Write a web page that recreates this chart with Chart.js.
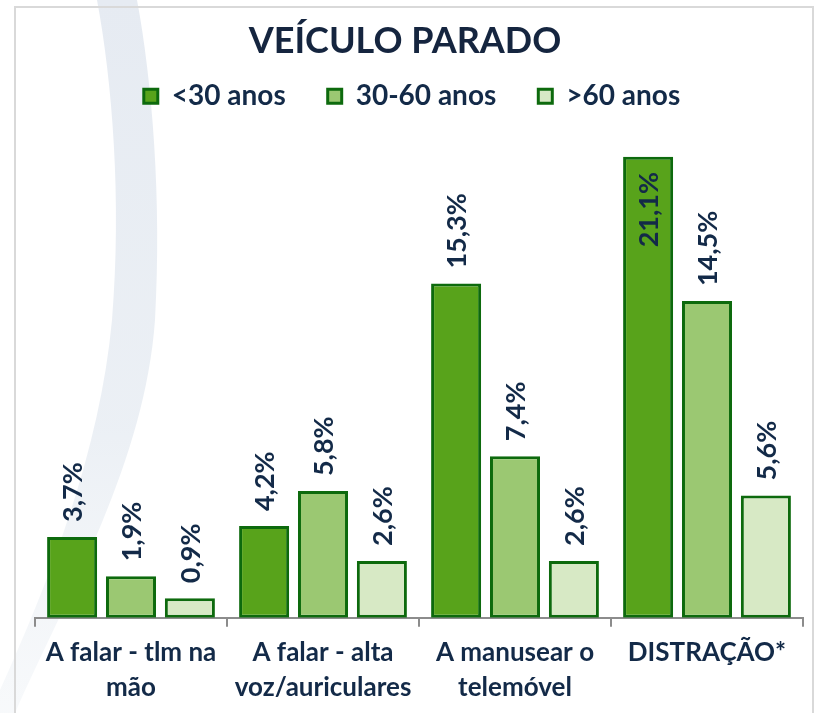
<!DOCTYPE html>
<html><head><meta charset="utf-8">
<script src="https://cdn.jsdelivr.net/npm/chart.js@4/dist/chart.umd.min.js"></script>
<style>html,body{margin:0;padding:0;background:#fff}canvas{display:block}</style>
</head><body>
<canvas id="c" width="816" height="713" style="width:816px;height:713px"></canvas>
<script>
// ---- data ----
const categories = [["A falar - tlm na", "mão"], ["A falar - alta", "voz/auriculares"], ["A manusear o", "telemóvel"], ["DISTRAÇÃO*"]];
const seriesNames = ["<30 anos", "30-60 anos", ">60 anos"];
const under30 = [3.7, 4.2, 15.3, 21.1];
const from30to60 = [1.9, 5.8, 7.4, 14.5];
const over60 = [0.9, 2.6, 2.6, 5.6];
const yMin = 0;
const yMax = 22;

// ---- styles ----
const FONT = "Lato, 'Open Sans', sans-serif";
const W = 'bold';
const NAVY = '#132a48';
const fills = ['#58a31b', '#9bc872', '#d7e9c5'];
const edge = '#0d6a0d';

const backgroundPlugin = {
  id: 'bg',
  beforeDraw(chart) {
    const ctx = chart.ctx;
    ctx.save();
    ctx.fillStyle = '#ffffff';
    ctx.fillRect(0, 0, chart.width, chart.height);
    // decorative swoosh
    ctx.beginPath();
    ctx.moveTo(97, 0);
    ctx.bezierCurveTo(112, 80, 122, 200, 112, 320);
    ctx.bezierCurveTo(100, 450, 50, 580, 0, 690);
    ctx.lineTo(0, 713);
    ctx.lineTo(15, 713);
    ctx.bezierCurveTo(70, 590, 145, 460, 155, 320);
    ctx.bezierCurveTo(162, 200, 152, 80, 137, 0);
    ctx.closePath();
    const g = ctx.createLinearGradient(0, 0, 0, 713);
    g.addColorStop(0, 'rgba(230,235,242,1)');
    g.addColorStop(0.6, 'rgba(232,237,243,0.85)');
    g.addColorStop(1, 'rgba(238,242,246,0.45)');
    ctx.fillStyle = g;
    ctx.fill();
    // frame
    ctx.strokeStyle = '#d9d9d9';
    ctx.lineWidth = 2;
    ctx.strokeRect(15, 7, 798, 720);
    ctx.restore();
  }
};

const shiftPlugin = {
  id: 'shift',
  beforeInit(chart) {
    const origFit = chart.legend.fit;
    chart.legend.fit = function () { origFit.call(this); this.height += 17; };
  },
  afterLayout(chart) {
    if (chart.titleBlock) { chart.titleBlock.left -= 28; }
    if (chart.legend) { chart.legend.left -= 14; }
  }
};

const labelPlugin = {
  id: 'vlabels',
  afterDatasetsDraw(chart) {
    const ctx = chart.ctx;
    ctx.save();
    ctx.font = W + ' 27px ' + FONT;
    ctx.fillStyle = NAVY;
    ctx.textBaseline = 'middle';
    chart.data.datasets.forEach((ds, di) => {
      const meta = chart.getDatasetMeta(di);
      meta.data.forEach((bar, i) => {
        const txt = ds.data[i].toFixed(1).replace('.', ',') + '%';
        const w = ctx.measureText(txt).width;
        ctx.save();
        if (bar.y - 15 - w < chart.chartArea.top - 30) {
          ctx.translate(bar.x, bar.y + 15);
          ctx.rotate(-Math.PI / 2);
          ctx.textAlign = 'right';
        } else {
          ctx.translate(bar.x, bar.y - 15);
          ctx.rotate(-Math.PI / 2);
          ctx.textAlign = 'left';
        }
        ctx.fillText(txt, 0, 1);
        ctx.restore();
      });
    });
    ctx.restore();
  }
};

function build() {
  const seriesData = [under30, from30to60, over60];
  new Chart(document.getElementById('c'), {
    type: 'bar',
    data: {
      labels: categories,
      datasets: seriesNames.map((name, k) => ({
        label: name,
        data: seriesData[k],
        backgroundColor: fills[k],
        borderColor: edge,
        borderWidth: 3,
        borderSkipped: false,
        categoryPercentage: 0.92,
        barPercentage: 0.85
      }))
    },
    options: {
      responsive: false,
      animation: false,
      devicePixelRatio: 1,
      layout: { padding: { left: 35, right: 13, top: 0, bottom: 0 } },
      scales: {
        x: {
          grid: { display: true, drawOnChartArea: false, drawTicks: true, tickLength: 9, color: '#8c8c8c', lineWidth: 2, offset: true },
          border: { display: true, color: '#8c8c8c', width: 2 },
          ticks: { color: NAVY, padding: 8, maxRotation: 0, autoSkip: false, font: { family: FONT, size: 26, weight: W, lineHeight: 1.35 } }
        },
        y: { display: false, min: yMin, max: yMax }
      },
      plugins: {
        title: {
          display: true, text: 'VEÍCULO PARADO', color: '#15253f',
          font: { family: FONT, size: 36, weight: W, lineHeight: 1.2 },
          padding: { top: 20, bottom: -23 }
        },
        legend: {
          position: 'top',
          labels: { color: NAVY, boxWidth: 14, boxHeight: 14, padding: 42, font: { family: FONT, size: 28, weight: W } }
        },
        tooltip: { enabled: false }
      }
    },
    plugins: [backgroundPlugin, shiftPlugin, labelPlugin]
  });
}

Promise.all([
  document.fonts.load(W + ' 28px Lato'),
  document.fonts.load(W + ' 36px Lato')
]).then(build, build);
</script>
</body></html>
